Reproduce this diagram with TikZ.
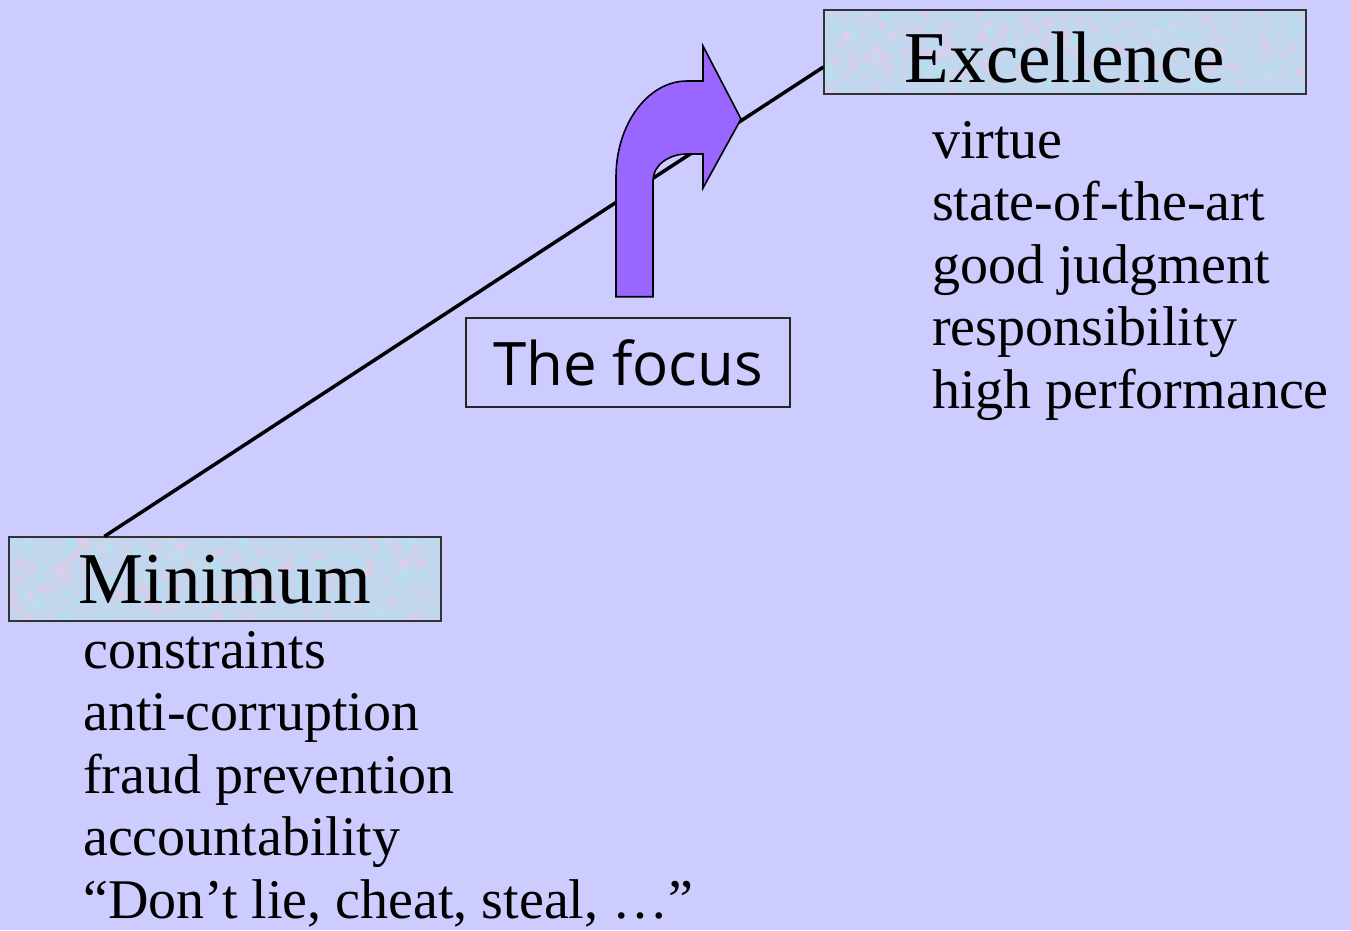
\documentclass[tikz,border=0pt]{standalone}
\usepackage{fontspec}
\setmainfont{Liberation Serif}
\newfontfamily\focusfont{Open Sans}
\usetikzlibrary{calc}
\definecolor{bgcol}{RGB}{204,204,255}
\definecolor{boxcol}{RGB}{194,214,238}
\definecolor{spotpink}{RGB}{228,204,232}
\definecolor{spotcyan}{RGB}{182,226,240}
\definecolor{arrowcol}{RGB}{153,102,255}
\newcommand{\mymottle}[2]{%
  \foreach \i in {1,...,160}{%
    \fill[spotpink,opacity=0.55] ($(path picture bounding box.north west)+({rnd*#1},{rnd*#2})$) circle ({2+4*rnd});
    \fill[spotcyan,opacity=0.55] ($(path picture bounding box.north west)+({rnd*#1},{rnd*#2})$) circle ({2+4*rnd});
  }}
\begin{document}
\begin{tikzpicture}[x=1pt,y=-1pt,
  titlebox/.style={draw=black!80,line width=1.2pt,fill=boxcol,inner sep=0pt,
    font=\fontsize{73}{80}\selectfont,text depth=0pt},
  listtext/.style={anchor=base west,inner sep=0pt,align=left,
    font=\fontsize{56}{62.5}\selectfont},
  focusbox/.style={draw=black!85,line width=1.2pt,inner sep=0pt,
    font=\focusfont\fontsize{60}{66}\selectfont,text depth=0pt}]
\pgfmathsetseed{11}
\fill[bgcol] (0,0) rectangle (1351,930);
\useasboundingbox (0,0) rectangle (1351,930);
% boxes
\node[titlebox,minimum width=482pt,minimum height=84pt,text height=60pt,
  path picture={\mymottle{482}{84}}] (exbox) at (1065,52) {Excellence};
\node[titlebox,minimum width=432pt,minimum height=84pt,text height=48pt,
  path picture={\mymottle{432}{84}}] (minbox) at (225,579) {Minimum};
\node[focusbox,minimum width=324pt,minimum height=89pt,text height=45pt] (focus) at (628,362.5) {The focus};
% line
\coordinate (ls) at ($(minbox.north west)+(96,0)$);
\coordinate (le) at ($(exbox.west)+(0,15)$);
\draw[line width=3.5pt] (ls) -- (le);
% bent arrow
\draw[fill=arrowcol,draw=black,line width=1.6pt,line join=miter]
  (616,296.7) -- (616,177)
  .. controls (616,124) and (648,81) .. (687,81)
  -- (703,81) -- (703,46) -- (741,119) -- (703,188) -- (703,154) -- (687,154)
  .. controls (668,154) and (653,166) .. (653,180)
  -- (653,296.7) -- cycle;
% lists (base anchor = last line's baseline)
\node[listtext] (exlist) at (932,408) {virtue\\state-of-the-art\\good judgment\\responsibility\\high performance};
\node[listtext] (minlist) at (83,918) {constraints\\anti-corruption\\fraud prevention\\accountability\\“Don’t lie, cheat, steal, …”};
\end{tikzpicture}
\end{document}
